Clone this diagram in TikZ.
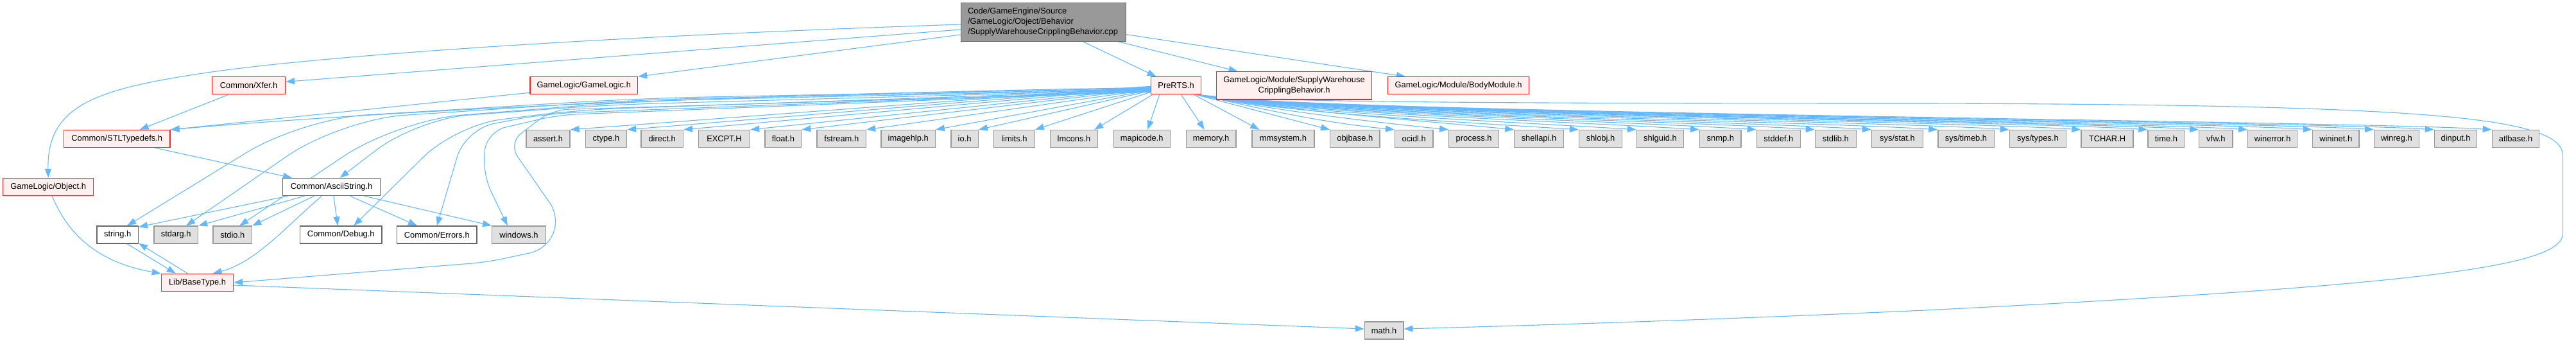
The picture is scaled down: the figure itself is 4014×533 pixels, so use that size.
\documentclass[tikz,border=0pt]{standalone}
\usepackage{fontspec}
\setmainfont{Liberation Sans}
\usetikzlibrary{arrows.meta}
\definecolor{edgec}{HTML}{63B8FF}
\definecolor{redfill}{HTML}{FFF0F0}
\definecolor{redline}{HTML}{FF2020}
\definecolor{grayfill}{HTML}{E0E0E0}
\definecolor{grayline}{HTML}{999999}
\definecolor{darkline}{HTML}{666666}
\definecolor{rootfill}{HTML}{999999}
\pgfdeclarelayer{bg}
\pgfsetlayers{bg,main}
\begin{document}
\begin{tikzpicture}[x=1pt,y=1pt,
 box/.style={draw, line width=1.3pt, inner sep=0pt, minimum height=27pt, font=\fontsize{12.9}{16}\selectfont, anchor=center},
 redbox/.style={box, draw=redline, fill=redfill},
 graybox/.style={box, draw=grayline, fill=grayfill},
 whitebox/.style={box, draw=darkline, fill=white},
 rootbox/.style={box, draw=darkline, fill=rootfill},
 edge/.style={draw=edgec, line width=1.1pt, -{Triangle[length=14pt,width=10pt]}},
]
\useasboundingbox (0,0) rectangle (4014,533);

% ---- nodes ----
\node[rootbox, minimum width=257, minimum height=59.5, text width=236, align=left, inner xsep=10.5] (cpp) at (1626,498.5) {Code/GameEngine/Source\\/GameLogic/Object/Behavior\\/SupplyWarehouseCripplingBehavior.cpp};

\node[redbox, minimum width=114] (xfer) at (387.6,399.7) {Common/Xfer.h};
\node[redbox, minimum width=167.6] (gamelogic) at (909.8,399.7) {GameLogic/GameLogic.h};
\node[redbox, minimum width=78.4] (prerts) at (1832.6,399.7) {PreRTS.h};
\node[redbox, minimum width=242.4, minimum height=43.2, align=center] (supply) at (2016.6,399.7) {GameLogic/Module/SupplyWarehouse\\CripplingBehavior.h};
\node[redbox, minimum width=220] (body) at (2272.6,399.7) {GameLogic/Module/BodyModule.h};

\node[redbox, minimum width=165.7] (stl) at (182.2,317) {Common/STLTypedefs.h};
\node[graybox, minimum width=68] (assert) at (854,317) {assert.h};
\node[graybox, minimum width=64] (ctype) at (944.5,317) {ctype.h};
\node[graybox, minimum width=65.4] (direct) at (1031.7,317) {direct.h};
\node[graybox, minimum width=80] (excpt) at (1128.5,317) {EXCPT.H};
\node[graybox, minimum width=56.7] (float) at (1220.4,317) {float.h};
\node[graybox, minimum width=76.5] (fstream) at (1311.3,317) {fstream.h};
\node[graybox, minimum width=84.3] (imagehlp) at (1415.2,317) {imagehlp.h};
\node[graybox, minimum width=42.2] (io) at (1503.1,317) {io.h};
\node[graybox, minimum width=63.7] (limits) at (1580.4,317) {limits.h};
\node[graybox, minimum width=74] (lmcons) at (1673.5,317) {lmcons.h};
\node[graybox, minimum width=88] (mapicode) at (1779.3,317) {mapicode.h};
\node[graybox, minimum width=77.8] (memory) at (1887.1,317) {memory.h};
\node[graybox, minimum width=97] (mmsystem) at (1999.4,317) {mmsystem.h};
\node[graybox, minimum width=77.2] (objbase) at (2111.3,317) {objbase.h};
\node[graybox, minimum width=59.3] (ocidl) at (2203.2,317) {ocidl.h};
\node[graybox, minimum width=77.8] (process) at (2296.6,317) {process.h};
\node[graybox, minimum width=76.5] (shellapi) at (2398,317) {shellapi.h};
\node[graybox, minimum width=67] (shlobj) at (2494,317) {shlobj.h};
\node[graybox, minimum width=73.3] (shlguid) at (2587,317) {shlguid.h};
\node[graybox, minimum width=64.4] (snmp) at (2680.8,317) {snmp.h};
\node[graybox, minimum width=68.3] (stddef) at (2771.4,317) {stddef.h};
\node[graybox, minimum width=63.8] (stdlib) at (2860.3,317) {stdlib.h};
\node[graybox, minimum width=79.7] (sysstat) at (2956.4,317) {sys/stat.h};
\node[graybox, minimum width=87.3] (systimeb) at (3063.5,317) {sys/timeb.h};
\node[graybox, minimum width=88] (systypes) at (3175.4,317) {sys/types.h};
\node[graybox, minimum width=81] (tchar) at (3283.5,317) {TCHAR.H};
\node[graybox, minimum width=56.7] (time) at (3375.4,317) {time.h};
\node[graybox, minimum width=52.3] (vfw) at (3452.9,317) {vfw.h};
\node[graybox, minimum width=77] (winerror) at (3541.2,317) {winerror.h};
\node[graybox, minimum width=72.7] (wininet) at (3639.7,317) {wininet.h};
\node[graybox, minimum width=69.5] (winreg) at (3734.4,317) {winreg.h};
\node[graybox, minimum width=66.3] (dinput) at (3826.6,317) {dinput.h};
\node[graybox, minimum width=73.3] (atlbase) at (3920,317) {atlbase.h};

\node[redbox, minimum width=140.8] (object) at (75.2,242) {GameLogic/Object.h};
\node[whitebox, minimum width=152] (ascii) at (516.6,242) {Common/AsciiString.h};

\node[whitebox, minimum width=64.3] (string) at (183.2,167.5) {string.h};
\node[graybox, minimum width=68.7] (stdarg) at (274.2,167.5) {stdarg.h};
\node[graybox, minimum width=60.5] (stdio) at (362.3,167.5) {stdio.h};
\node[whitebox, minimum width=127.5] (debug) at (531.3,167.5) {Common/Debug.h};
\node[whitebox, minimum width=124.4] (errors) at (680.8,167.5) {Common/Errors.h};
\node[graybox, minimum width=83.5] (windows) at (808.4,167.5) {windows.h};

\node[redbox, minimum width=112.2] (basetype) at (307.5,93) {Lib/BaseType.h};
\node[graybox, minimum width=60.6] (math) at (2156.6,18.5) {math.h};

% ---- edges ----
\begin{pgfonlayer}{bg}
% from the .cpp file
\draw[edge] ([yshift=-3.5]cpp.west) .. controls (900,475) and (500,445) .. (330,421) .. controls (150,395) and (73,370) .. (object.north);
\draw[edge] ([yshift=-11.5]cpp.west) -- ([yshift=6]xfer.east);
\draw[edge] ([yshift=-19.5]cpp.west) -- (gamelogic.north east);
\draw[edge] ([xshift=61.5]cpp.south) -- ([xshift=-31]prerts.north);
\draw[edge] ([xshift=117]cpp.south) -- ([xshift=-88]supply.north);
\draw[edge] ([yshift=-19.2]cpp.east) -- ([xshift=28]body.north west);

\draw[edge] ([xshift=-32]xfer.south) -- ([xshift=35.5]stl.north);
\draw[edge] ([yshift=-11]gamelogic.west) -- (stl.north east);
\draw[edge] ([xshift=59]stl.south) -- ([xshift=15]ascii.north west);
\draw[edge] ([xshift=6]object.south) .. controls (105,170) and (150,125) .. (basetype.north west);

% AsciiString
\draw[edge] ([xshift=8.4]ascii.south west) -- ([yshift=-2]string.north east);
\draw[edge] ([xshift=-42]ascii.south) -- (stdarg.north east);
\draw[edge] ([xshift=-27]ascii.south) -- (stdio.north east);
\draw[edge] ([xshift=-15]ascii.south) .. controls (450,185) and (400,125) .. ([xshift=24]basetype.north);
\draw[edge] ([xshift=3.2]ascii.south) -- ([xshift=-5]debug.north);
\draw[edge] ([xshift=28.7]ascii.south) -- ([xshift=32]errors.north west);
\draw[edge] ([xshift=51]ascii.south) -- (windows.north west);

% string <-> BaseType
\draw[edge] ([xshift=15]string.south) -- ([xshift=-33.7]basetype.north);
\draw[edge] ([xshift=-15]basetype.north) -- ([yshift=1]string.south east);
\draw[edge] ([yshift=-4]basetype.east) -- ([yshift=2.5]math.west);

% PreRTS -> far left targets
\draw[edge] ([yshift=-3]prerts.west) .. controls (1100,385) and (600,360) .. (stl.north east);
\draw[edge, rounded corners=100] ([yshift=-4]prerts.west) -- (1000,380) -- (470,348) -- ([xshift=15]string.north);
\draw[edge, rounded corners=100] ([yshift=-5]prerts.west) -- (1000,378) -- (530,347) -- ([xshift=16]stdarg.north);
\draw[edge, rounded corners=100] ([yshift=-6]prerts.west) -- (1000,376) -- (620,346) -- ([xshift=11]stdio.north);
\draw[edge, rounded corners=80] ([yshift=-6.5]prerts.west) -- (950,370) -- (650,348) -- ([xshift=13]ascii.north);
\draw[edge, rounded corners=70] ([yshift=-7]prerts.west) -- (900,362) -- (710,338) -- ([xshift=20]debug.north);
\draw[edge, rounded corners=45] ([yshift=-8]prerts.west) -- (850,356) -- (725,332) -- (errors.north);
\draw[edge, rounded corners=30] ([yshift=-9]prerts.west) -- (870,354) -- (758,328) -- (752,262) -- ([xshift=-17.6]windows.north);
\draw[edge, rounded corners=25] ([yshift=-10]prerts.west) -- (860,362) -- (792,310) -- (872,195) -- (852,145) -- (760,125) -- (basetype.east);

% PreRTS -> near left targets
\draw[edge] ([yshift=-1]prerts.west) -- (assert.north east);
\draw[edge] ([yshift=-2]prerts.west) -- (ctype.north east);
\draw[edge] ([yshift=-3]prerts.west) -- (direct.north east);
\draw[edge] ([yshift=-4]prerts.west) -- (excpt.north east);
\draw[edge] ([yshift=-5]prerts.west) -- (float.north east);
\draw[edge] ([yshift=-6]prerts.west) -- (fstream.north east);
\draw[edge] ([yshift=-7]prerts.west) -- (imagehlp.north east);
\draw[edge] ([yshift=-8]prerts.west) -- (io.north east);
\draw[edge] ([yshift=-10]prerts.west) -- (limits.north east);
\draw[edge] ([xshift=3]prerts.south west) -- ([xshift=-6]lmcons.north east);

% PreRTS -> below / right
\draw[edge] ([xshift=-26]prerts.south) -- ([xshift=9]mapicode.north);
\draw[edge] ([xshift=8]prerts.south) -- ([xshift=-10.4]memory.north);
\draw[edge] ([xshift=-12]prerts.south east) -- ([xshift=12]mmsystem.north west);
\draw[edge] ([xshift=-9]prerts.south east) -- (objbase.north west);
\foreach \t in {ocidl,process,shellapi}
  \draw[edge] ([xshift=-6]prerts.south east) .. controls +(100,-22) and +(-120,12) .. (\t.north west);
\foreach \t in {shlobj,shlguid,snmp,stddef,stdlib,sysstat,systimeb,systypes,tchar,time,vfw,winerror,wininet,winreg,dinput,atlbase}
  \draw[edge] ([xshift=-6]prerts.south east) .. controls +(130,-28) and +(-220,14) .. (\t.north west);

% PreRTS -> math.h (long loop)
\draw[edge] ([xshift=-4]prerts.south east) .. controls (1950,374) and (2300,372) .. (3000,372)
  .. controls (3800,370) and (3993.6,350) .. (3993.6,290) -- (3993.6,170)
  .. controls (3993.6,120) and (3800,90) .. (3000,50)
  .. controls (2600,32) and (2300,24) .. ([yshift=2.5]math.east);
\end{pgfonlayer}
\end{tikzpicture}
\end{document}
